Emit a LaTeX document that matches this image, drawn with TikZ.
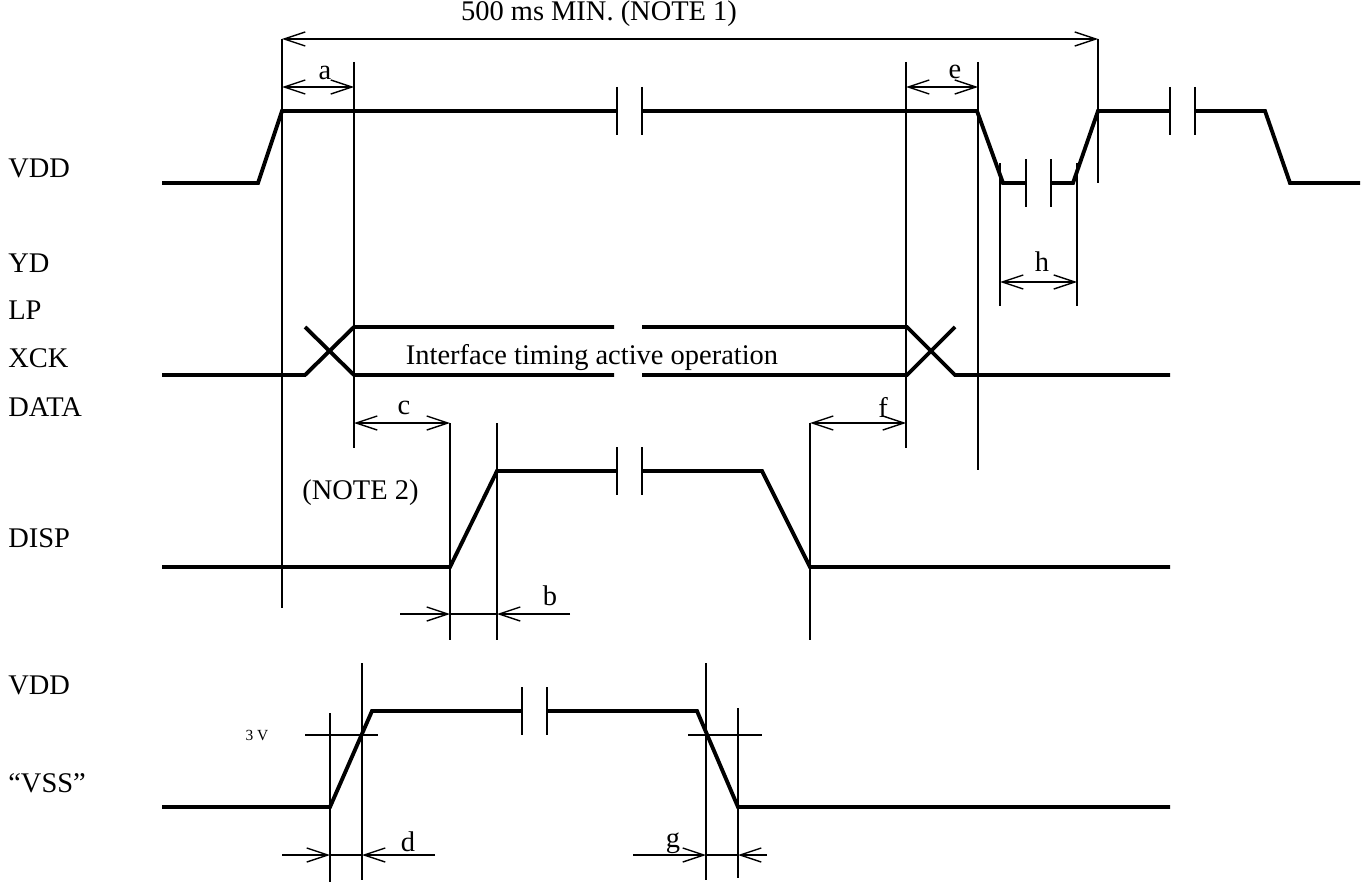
\documentclass[tikz,border=0pt]{standalone}
\usepackage{fontspec}
\setmainfont{Liberation Serif}
\usetikzlibrary{arrows.meta}

\begin{document}
\begin{tikzpicture}[x=0.02cm, y=-0.02cm,
		sig/.style={line width=2.2pt, line join=miter},
		guide/.style={line width=0.8pt},
		barb/.tip={Straight Barb[length=12pt, width=8pt]},
		dim/.style={guide, barb-barb},
		lbl/.style={font=\fontsize{16.2}{19}\selectfont, inner sep=0pt},
		small/.style={font=\fontsize{8.8}{10}\selectfont, inner sep=0pt}]
		\useasboundingbox (0,0) rectangle (1366,882);

		% signal names
		\node[lbl, anchor=west] (vddtop) at (8,168) {VDD};
		\node[lbl, anchor=west] (yd) at (8,263) {YD};
		\node[lbl, anchor=west] (lp) at (8,310) {LP};
		\node[lbl, anchor=west] (xck) at (8,358) {XCK};
		\node[lbl, anchor=west] (data) at (8,407) {DATA};
		\node[lbl, anchor=west] (disp) at (8,538) {DISP};
		\node[lbl, anchor=west] (vddbot) at (8,685) {VDD};
		\node[lbl, anchor=west] (vss) at (8,783) {``VSS''};

		% VDD (top)
		\draw[sig] (162,183) -- (258,183) -- (282,111) -- (617,111);
		\draw[sig] (642,111) -- (977,111) -- (1003,183) -- (1026,183);
		\draw[sig] (1051,183) -- (1073,183) -- (1098,111) -- (1170,111);
		\draw[sig] (1195,111) -- (1265,111) -- (1290,183) -- (1360,183);

		% YD / LP / XCK / DATA bus
		\draw[sig] (162,375) -- (305,375) -- (354,327) -- (614,327);
		\draw[sig] (305,327) -- (354,375) -- (614,375);
		\draw[sig] (642,327) -- (907,327) -- (955,375) -- (1170,375);
		\draw[sig] (642,375) -- (907,375) -- (955,327);
		\node[lbl] (iface) at (592,358) {Interface timing active operation};

		% DISP
		\draw[sig] (162,567) -- (450,567) -- (497,471) -- (617,471);
		\draw[sig] (642,471) -- (762,471) -- (810,567) -- (1170,567);
		\node[lbl, anchor=west] (note2) at (302,493) {(NOTE 2)};

		% VDD / VSS (bottom)
		\draw[sig] (162,807) -- (330,807) -- (372,711) -- (522,711);
		\draw[sig] (547,711) -- (697,711) -- (738,807) -- (1170,807);

		% break marks
		\foreach \x/\y in {617/111, 1026/183, 1170/111, 617/471, 522/711}
			\draw[guide] (\x,\y-24) -- (\x,\y+24) (\x+25,\y-24) -- (\x+25,\y+24);

		% reference lines
		\foreach \x/\ya/\yb in {282/39/608, 354/62/448, 906/62/448, 978/62/470,
			1098/39/183, 1000/163/306, 1077/163/306, 450/423/640, 497/423/640,
			810/423/640, 330/713/882, 362/663/880, 706/663/880, 738/708/878}
			\draw[guide] (\x,\ya) -- (\x,\yb);
		\draw[guide] (305,735) -- (378,735);
		\draw[guide] (688,735) -- (762,735);
		\node[small] (threev) at (257,735) {3 V};

		% timing dimensions
		\draw[dim] (282,39) -- (1098,39);
		\node[lbl] (note1) at (599,14) {500 ms MIN. (NOTE 1)};
		\draw[dim] (282,87) -- (354,87);
		\node[lbl] (ta) at (325,73) {a};
		\draw[dim] (906,87) -- (978,87);
		\node[lbl] (te) at (955,72) {e};
		\draw[dim] (1000,282) -- (1077,282);
		\node[lbl] (th) at (1042,262) {h};
		\draw[dim] (354,423) -- (450,423);
		\node[lbl] (tc) at (404,408) {c};
		\draw[dim] (810,423) -- (906,423);
		\node[lbl] (tf) at (883,407) {f};

		\draw[guide, -barb] (400,614) -- (450,614);
		\draw[guide] (450,614) -- (497,614);
		\draw[guide, -barb] (570,614) -- (497,614);
		\node[lbl] (tb) at (550,596) {b};
		\draw[guide, -barb] (282,855) -- (330,855);
		\draw[guide] (330,855) -- (362,855);
		\draw[guide, -barb] (435,855) -- (362,855);
		\node[lbl] (td) at (408,842) {d};
		\draw[guide, -barb] (633,855) -- (706,855);
		\draw[guide] (706,855) -- (738,855);
		\draw[guide, -barb] (767,855) -- (738,855);
		\node[lbl] (tg) at (673,843) {g};
	\end{tikzpicture}
\end{document}
